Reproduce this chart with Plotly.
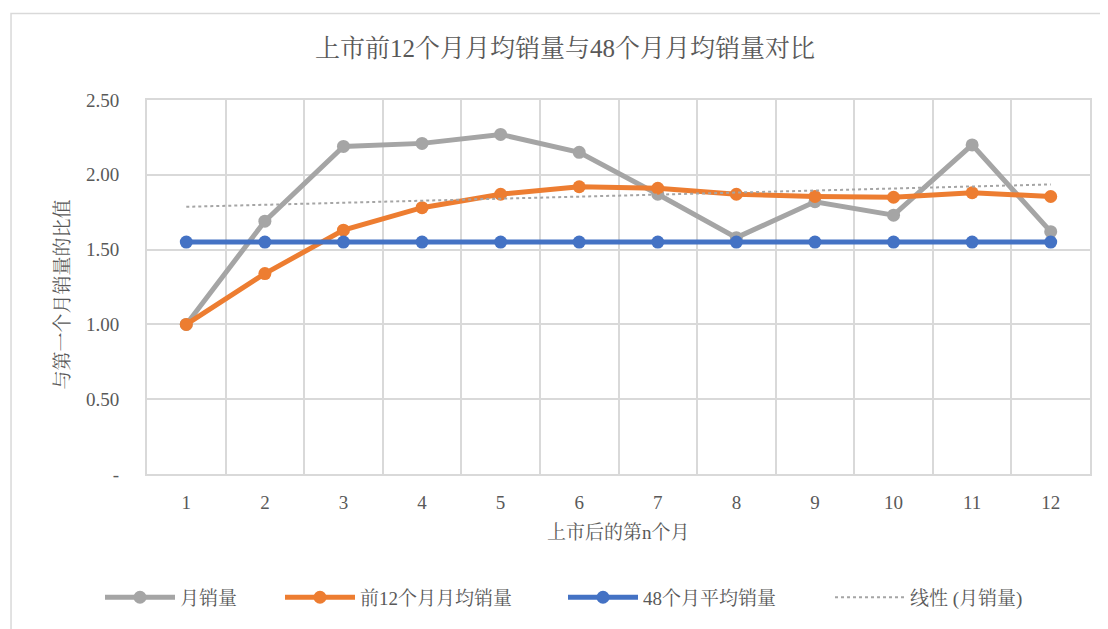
import numpy as np
import plotly.graph_objects as go

# 数据
months = list(range(1, 13))
monthly_sales = [1.00, 1.69, 2.19, 2.21, 2.27, 2.15, 1.87, 1.58, 1.82, 1.73, 2.20, 1.62]
avg_first12 = [1.00, 1.34, 1.63, 1.78, 1.87, 1.92, 1.91, 1.87, 1.855, 1.85, 1.88, 1.855]
avg_48 = [1.55] * 12
y_tickvals = [0, 0.5, 1.0, 1.5, 2.0, 2.5]
y_ticktext = ["-", "0.50", "1.00", "1.50", "2.00", "2.50"]

FONT = "Liberation Serif, Noto Serif CJK SC, Noto Sans CJK SC, serif"
TEXT = "#595959"
GRID = "#d9d9d9"

# 绘图区像素位置（用于放置图例）
PLOT_L, PLOT_W = 147, 943


def px_to_paper(px):
    return (px - PLOT_L) / PLOT_W


# 月销量的线性趋势线
slope, intercept = np.polyfit(months, monthly_sales, 1)
trend = [slope * m + intercept for m in months]

fig = go.Figure()

fig.add_trace(go.Scatter(
    x=months, y=monthly_sales, mode="lines+markers", name="月销量",
    line=dict(color="#A5A5A5", width=5),
    marker=dict(color="#A5A5A5", size=13),
    legend="legend", showlegend=True,
))
fig.add_trace(go.Scatter(
    x=months, y=avg_first12, mode="lines+markers", name="前12个月月均销量",
    line=dict(color="#ED7D31", width=5),
    marker=dict(color="#ED7D31", size=13),
    legend="legend2", showlegend=True,
))
fig.add_trace(go.Scatter(
    x=months, y=avg_48, mode="lines+markers", name="48个月平均销量",
    line=dict(color="#4472C4", width=5),
    marker=dict(color="#4472C4", size=13),
    legend="legend3", showlegend=True,
))
fig.add_trace(go.Scatter(
    x=months, y=trend, mode="lines", name="线性 (月销量)",
    line=dict(color="#A5A5A5", width=2, dash="dot"),
    legend="legend4", showlegend=True,
))

# 图表外框
fig.add_shape(type="rect", xref="paper", yref="paper",
              x0=-0.1442, x1=1.1, y0=-0.5, y1=1.2314,
              line=dict(color=GRID, width=1.5), layer="below")

fig.add_annotation(text="上市前12个月月均销量与48个月月均销量对比",
                   xref="paper", yref="paper", x=0.443, y=1.138,
                   xanchor="center", yanchor="middle",
                   showarrow=False, font=dict(size=25, color=TEXT, family=FONT))
fig.add_annotation(text="上市后的第n个月",
                   xref="paper", yref="paper", x=0.5, y=-0.157,
                   xanchor="center", yanchor="middle",
                   showarrow=False, font=dict(size=19, color=TEXT, family=FONT))
fig.add_annotation(text="与第一个月销量的比值", textangle=-90,
                   xref="paper", yref="paper", x=-0.090, y=0.48,
                   xanchor="center", yanchor="middle",
                   showarrow=False, font=dict(size=19, color=TEXT, family=FONT))

legend_style = dict(
    orientation="h", xanchor="left", y=-0.33, yanchor="middle",
    font=dict(size=19, color=TEXT), itemwidth=70, bgcolor="rgba(0,0,0,0)",
)

# 页面 body 有 8px 边距，宽高与边距按此补偿
fig.update_layout(
    width=1100, height=621,
    paper_bgcolor="white", plot_bgcolor="white",
    margin=dict(l=139, r=18, t=92, b=153),
    font=dict(family=FONT, color=TEXT, size=17),
    showlegend=True,
    xaxis=dict(
        range=[0.5, 12.5], tickvals=months, showgrid=False, zeroline=False,
        showline=True, mirror=True, linecolor=GRID, linewidth=2,
        ticks="", ticklabelstandoff=10,
        minor=dict(tick0=0.5, dtick=1, showgrid=True, gridcolor=GRID, gridwidth=2),
        tickfont=dict(size=19, color=TEXT),
    ),
    yaxis=dict(
        range=[0, 2.5], tickvals=y_tickvals, ticktext=y_ticktext,
        showgrid=True, gridcolor=GRID, gridwidth=2, zeroline=False,
        showline=True, mirror=True, linecolor=GRID, linewidth=2,
        ticks="", ticklabelstandoff=22,
        tickfont=dict(size=19, color=TEXT),
    ),
    legend=dict(x=px_to_paper(100), **legend_style),
    legend2=dict(x=px_to_paper(280), **legend_style),
    legend3=dict(x=px_to_paper(563), **legend_style),
    legend4=dict(x=px_to_paper(830), **legend_style),
)

fig.write_html("out.html")
